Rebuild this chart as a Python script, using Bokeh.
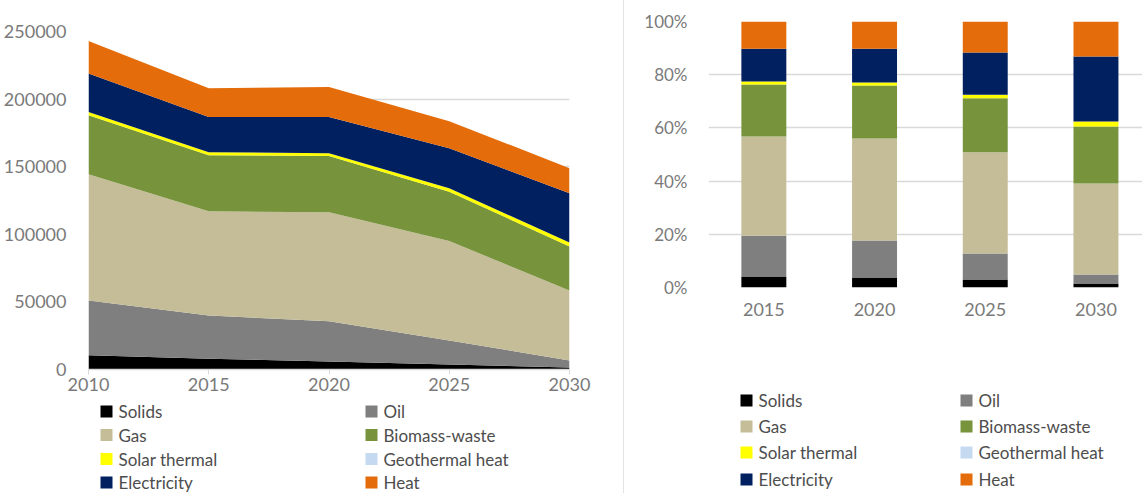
from bokeh.plotting import figure
from bokeh.models import (ColumnDataSource, Range1d, FixedTicker, PrintfTickFormatter, Spacer)
from bokeh.layouts import row, column
from bokeh.core.properties import value
from bokeh.embed import file_html
from bokeh.resources import INLINE

# ---------------- data ----------------
series = ["Solids", "Oil", "Gas", "Biomass-waste", "Solar thermal",
          "Geothermal heat", "Electricity", "Heat"]
colors = ["#000000", "#7f7f7f", "#c4bd97", "#77933c", "#ffff00",
          "#c5d9f1", "#002060", "#e46c0a"]

# left chart: absolute values (stacked area)
years_abs = [2010, 2015, 2020, 2025, 2030]
solids_abs = [10500, 8000, 6000, 3700, 1500]
oil_abs = [40500, 32000, 29600, 17800, 5200]
gas_abs = [93400, 77000, 80700, 73500, 51800]
biomass_abs = [43600, 41500, 41700, 36500, 32500]
solar_abs = [2400, 2200, 2000, 2500, 3000]
geo_abs = [0, 0, 0, 0, 0]
elec_abs = [28600, 26000, 26700, 29700, 36400]
heat_abs = [24000, 21300, 22200, 20000, 18500]

# right chart: shares in percent (100% stacked bars)
years_pct = [2015, 2020, 2025, 2030]
solids_pct = [4.1, 3.8, 3.0, 1.5]
oil_pct = [15.4, 13.9, 9.8, 3.4]
gas_pct = [37.3, 38.3, 38.0, 34.2]
biomass_pct = [19.5, 19.9, 20.3, 21.4]
solar_pct = [1.1, 1.2, 1.4, 1.9]
geo_pct = [0, 0, 0, 0]
elec_pct = [12.4, 12.7, 15.8, 24.4]
heat_pct = [10.2, 10.2, 11.7, 13.2]

y_ticks_abs = [0, 50000, 100000, 150000, 200000, 250000]
y_ticks_pct = [0, 20, 40, 60, 80, 100]

FONT = "Lato"
TICK_COLOR = "#7a7a7a"
LEG_COLOR = "#4d4d4d"
GRID = "#d9d9d9"

keys = ["s0", "s1", "s2", "s3", "s4", "s5", "s6", "s7"]

src_abs = ColumnDataSource(dict(year=years_abs, s0=solids_abs, s1=oil_abs, s2=gas_abs,
                                s3=biomass_abs, s4=solar_abs, s5=geo_abs, s6=elec_abs,
                                s7=heat_abs))
src_pct = ColumnDataSource(dict(year=years_pct, s0=solids_pct, s1=oil_pct, s2=gas_pct,
                                s3=biomass_pct, s4=solar_pct, s5=geo_pct, s6=elec_pct,
                                s7=heat_pct))


def legend_figure(width, height, col_x, row_y):
    """Two-column legend drawn in pixel coordinates (y downwards)."""
    lf = figure(width=width, height=height, output_backend="svg", toolbar_location=None,
                x_range=Range1d(0, width), y_range=Range1d(height, 0),
                min_border=0, x_axis_location=None, y_axis_location=None,
                frame_align=False)
    lf.grid.visible = False
    lf.outline_line_color = None
    cols = [i % 2 for i in range(len(series))]
    rows = [i // 2 for i in range(len(series))]
    src = ColumnDataSource(dict(
        sx=[col_x[c] + 6 for c in cols],
        tx=[col_x[c] + 18 for c in cols],
        y=[row_y[r] for r in rows],
        label=series, color=colors))
    lf.rect(x="sx", y="y", width=12, height=12, width_units="screen",
            height_units="screen", fill_color="color", line_color=None, source=src)
    lf.text(x="tx", y="y", text="label", text_font=value(FONT), text_font_size="17px",
            text_baseline="middle", text_align="left", text_color=LEG_COLOR, source=src)
    return lf


# ---------------- left chart ----------------
TOP1 = 400
p1 = figure(width=623, height=TOP1, output_backend="svg", toolbar_location=None,
            x_range=Range1d(2010, 2030), y_range=Range1d(0, 250000),
            min_border_left=88, min_border_right=54, min_border_top=31,
            min_border_bottom=TOP1 - 31 - 338, frame_align=False)
areas = p1.varea_stack(stackers=keys, x="year", color=colors, source=src_abs)

p1.outline_line_color = None
p1.xgrid.visible = False
p1.ygrid.grid_line_color = GRID
p1.ygrid.grid_line_width = 1.5
p1.yaxis.ticker = FixedTicker(ticks=y_ticks_abs)
p1.yaxis.formatter = PrintfTickFormatter(format="%d")
p1.yaxis.axis_line_color = None
p1.yaxis.major_tick_line_color = None
p1.yaxis.minor_tick_line_color = None
p1.yaxis.major_tick_out = 0
p1.yaxis.major_tick_in = 0
p1.yaxis.major_label_standoff = 22
p1.yaxis.major_label_text_font_size = "18px"
p1.xaxis.ticker = FixedTicker(ticks=years_abs)
p1.xaxis.axis_line_color = GRID
p1.xaxis.axis_line_width = 1.5
p1.xaxis.major_tick_line_color = GRID
p1.xaxis.major_tick_out = 5
p1.xaxis.major_tick_in = 0
p1.xaxis.minor_tick_line_color = None
p1.xaxis.major_label_standoff = 3
p1.xaxis.major_label_text_font_size = "18px"
for ax in (p1.xaxis, p1.yaxis):
    ax.major_label_text_font = FONT
    ax.major_label_text_color = TICK_COLOR

leg1 = legend_figure(623, 493 - TOP1, [100, 365],
                     [r - TOP1 for r in (411, 434.5, 458.5, 482)])

# ---------------- right chart ----------------
TOP2 = 340
px_per_year = 110.7 / 5
frame_w = 1142 - 624 - 84
p2 = figure(width=518, height=TOP2, output_backend="svg", toolbar_location=None,
            x_range=Range1d(2012.5, 2012.5 + frame_w / px_per_year), y_range=Range1d(0, 100),
            min_border_left=84, min_border_right=0, min_border_top=21,
            min_border_bottom=TOP2 - 21 - 266, frame_align=False)
bars = p2.vbar_stack(stackers=keys, x="year", width=2.03, color=colors,
                     line_color=None, source=src_pct)

p2.outline_line_color = None
p2.xgrid.visible = False
p2.ygrid.grid_line_color = GRID
p2.ygrid.grid_line_width = 1.5
p2.yaxis.ticker = FixedTicker(ticks=y_ticks_pct)
p2.yaxis.formatter = PrintfTickFormatter(format="%d%%")
p2.yaxis.axis_line_color = None
p2.yaxis.major_tick_line_color = None
p2.yaxis.minor_tick_line_color = None
p2.yaxis.major_tick_out = 0
p2.yaxis.major_tick_in = 0
p2.yaxis.major_label_standoff = 21
p2.xaxis.ticker = FixedTicker(ticks=years_pct)
p2.xaxis.axis_line_color = None
p2.xaxis.major_tick_line_color = None
p2.xaxis.minor_tick_line_color = None
p2.xaxis.major_tick_out = 0
p2.xaxis.major_tick_in = 0
p2.xaxis.major_label_standoff = 15
p2.yaxis.major_label_text_font_size = "17px"
p2.xaxis.major_label_text_font_size = "18px"
for ax in (p2.xaxis, p2.yaxis):
    ax.major_label_text_font = FONT
    ax.major_label_text_color = TICK_COLOR

leg2 = legend_figure(518, 493 - TOP2, [740 - 624, 960 - 624],
                     [r - TOP2 for r in (400, 426, 452, 479)])

sep = Spacer(width=1, height=493, styles={"background-color": "#e3e3e3"})

layout = row(column(p1, leg1), sep, column(p2, leg2))
open("out.html", "w").write(file_html(layout, INLINE))
